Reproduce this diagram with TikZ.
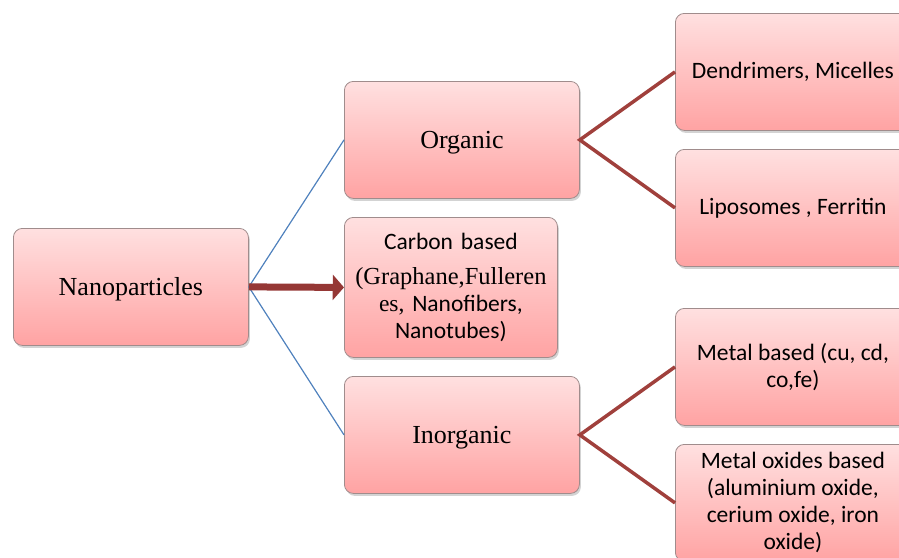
\documentclass[tikz,border=0pt]{standalone}
\usepackage{fontspec}
\setmainfont{Liberation Serif}
\newfontfamily\calibfont{Carlito}
\usetikzlibrary{arrows.meta,shadows}
\definecolor{boxtop}{RGB}{255,224,224}
\definecolor{boxbot}{RGB}{255,163,163}
\definecolor{boxline}{RGB}{160,140,140}
\definecolor{linkblue}{RGB}{79,129,189}
\definecolor{linkred}{RGB}{160,64,60}
\definecolor{arrowred}{RGB}{149,55,53}
\tikzset{
  box/.style={draw=boxline, line width=0.8pt, rounded corners=9pt,
    top color=boxtop, bottom color=boxbot,
    drop shadow={shadow xshift=1.5pt, shadow yshift=-2.5pt, opacity=0.35},
    minimum width=235pt, minimum height=117pt, anchor=north west,
    inner sep=2pt, align=center},
  serifbox/.style={box, font=\fontsize{26}{30}\selectfont, text height=22pt, text depth=4pt},
  sansbox/.style={box, font=\calibfont\fontsize{23.5}{27}\selectfont},
  bluelink/.style={draw=linkblue, line width=1.2pt},
  redlink/.style={draw=linkred, line width=3.5pt},
  bigarrow/.style={draw=arrowred, line width=7pt, rounded corners=0pt,
    -{Triangle[length=9pt,width=20pt,fill=arrowred,scale=1.25]}},
}
\begin{document}
\begin{tikzpicture}[x=1pt,y=-1pt]
\useasboundingbox (0,0) rectangle (899,557);
\clip (0,0) rectangle (899,557);
\node[serifbox] (np) at (13,228) {Nanoparticles};
\node[serifbox] (org) at (344,81) {Organic};
\node[sansbox, minimum width=213pt, minimum height=140pt, text width=207pt] (carb) at (344,217)
  {Carbon based\\[8pt]{\fontsize{24.5}{27}\selectfont\rmfamily (Graphane,Fulleren}\\{\rmfamily es,} Nanofibers,\\Nanotubes)};
\node[serifbox] (inorg) at (344,376) {Inorganic};
\node[sansbox] (den) at (675,13) {Dendrimers, Micelles};
\node[sansbox] (lip) at (675,149) {Liposomes , Ferritin};
\node[sansbox] (met) at (675,308) {Metal based (cu, cd,\\co,fe)};
\node[sansbox] (mox) at (675,444) {Metal oxides based\\(aluminium oxide,\\cerium oxide, iron\\oxide)};
\draw[bluelink] (np.east) -- (org.west);
\draw[bluelink] (np.east) -- (inorg.west);
\draw[bigarrow] (np.east) -- (carb.west);
\draw[redlink, line join=miter] (den.west) -- (org.east) -- (lip.west);
\draw[redlink, line join=miter] (met.west) -- (inorg.east) -- (mox.west);
\end{tikzpicture}
\end{document}
